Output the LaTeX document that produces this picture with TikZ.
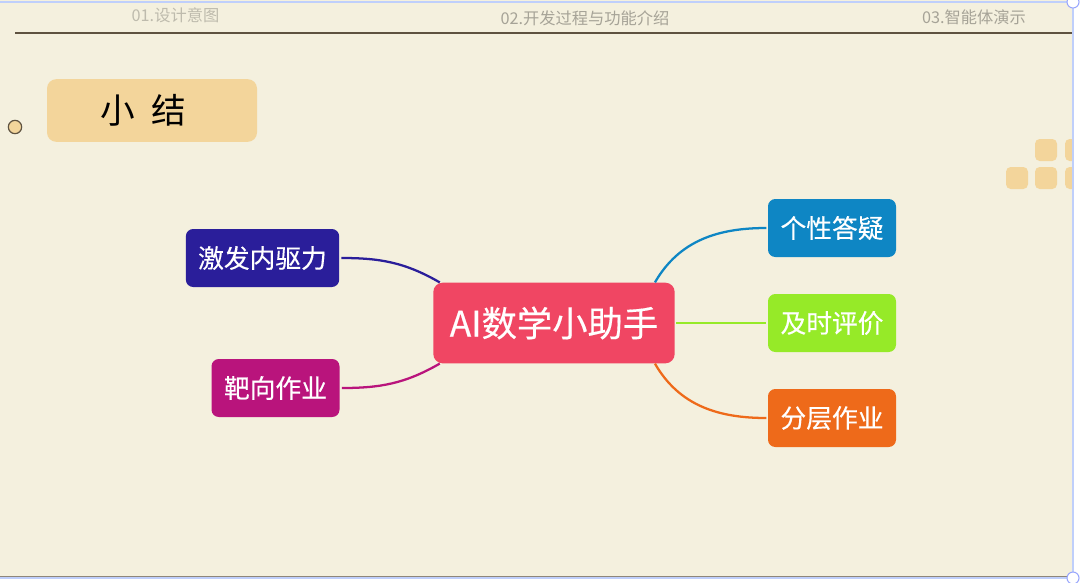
\documentclass[tikz,border=0pt]{standalone}
\usepackage{fontspec}
\setmainfont{Noto Sans CJK SC}
\newfontfamily\heavycjk[FakeBold=0.35]{Noto Sans CJK SC}
\usetikzlibrary{positioning}
\definecolor{paper}{HTML}{F4F0DE}
\definecolor{sand}{HTML}{F3D59B}
\definecolor{frameblue}{HTML}{BFCFFB}
\definecolor{rulebrown}{HTML}{5E5240}
\definecolor{mainred}{HTML}{F04663}
\definecolor{navy}{HTML}{2A1E9A}
\definecolor{plum}{HTML}{B9147C}
\definecolor{sky}{HTML}{0E86C4}
\definecolor{lime}{HTML}{96EA28}
\definecolor{tangerine}{HTML}{EE6A1A}
\tikzset{
  topic/.style={fill=#1,text=white,rounded corners=5.5pt,minimum height=43.5pt,
    inner sep=0pt,font=\heavycjk\fontsize{19.3}{19.3}\selectfont},
  link/.style={draw=#1,line width=1.7pt},
  tab/.style={text=#1,inner sep=0pt,font=\fontsize{12.2}{12.2}\selectfont},
  tile/.style={fill=sand,rounded corners=3.5pt,minimum size=16.5pt,inner sep=0pt},
  handle/.style={draw=frameblue!80!blue,fill=white,line width=0.8pt,circle,
    minimum size=9pt,inner sep=0pt}
}
\begin{document}
\begin{tikzpicture}[x=0.75pt,y=-0.75pt]
\useasboundingbox (0,0) rectangle (1080,582);
\fill[white] (0,0) rectangle (1080,582);
\fill[paper] (0,0) rectangle (1073,577);
\begin{scope}
\clip (0,0) rectangle (1073,577);
\foreach \x/\y in {1046/150,1076/150,1017/178,1046/178,1076/178}
\node[tile] (tile\x\y) at (\x,\y) {};
\end{scope}
\draw[rulebrown,line width=1.2pt] (15,33) coordinate (ruleL) -- (1072,33) coordinate (ruleR);
\draw[rulebrown!70,line width=0.7pt] (0,576) coordinate (baseL) -- (1072,576) coordinate (baseR);
\draw[frameblue,line width=1.6pt] (0,2) coordinate (frameA) -- (1073,2) coordinate (frameB)
  -- (1073,578) coordinate (frameC) -- (0,578) coordinate (frameD);
\node[handle] (handleT) at (frameB) {};
\node[handle] (handleB) at (frameC) {};
\node[tab=paper!78!black] (tabA) at (175.5,15) {01.设计意图};
\node[tab=paper!68!black] (tabB) at (585,18) {02.开发过程与功能介绍};
\node[tab=paper!68!black] (tabC) at (974,17) {03.智能体演示};
\node[fill=sand,rounded corners=7pt,minimum width=157.5pt,minimum height=47pt,inner sep=0pt,
  font=\fontsize{26}{26}\selectfont] (summary) at (152,110.5) {小\hspace{12pt}结\hspace*{12.8pt}};
\node[circle,fill=sand,draw=rulebrown,line width=0.9pt,minimum size=10pt,inner sep=0pt] (dot) at (15,127) {};
% mind map
\node[topic=mainred,rounded corners=7pt,minimum width=181pt,minimum height=60.5pt,
  font=\heavycjk\fontsize{26.5}{26.5}\selectfont] (main) at (554,323) {AI数学小助手};
\node[topic=navy,minimum width=115pt] (drive) at (262.5,258) {激发内驱力};
\node[topic=plum,minimum width=96pt] (target) at (275.5,388) {靶向作业};
\node[topic=sky,minimum width=96pt] (answer) at (832,228) {个性答疑};
\node[topic=lime,minimum width=96pt] (review) at (832,323) {及时评价};
\node[topic=tangerine,minimum width=96pt] (layer) at (832,418) {分层作业};
\draw[link=navy,shorten <=1.5pt] (drive.east) to[out=0,in=150] ([xshift=5pt]main.north west);
\draw[link=plum,shorten <=1.5pt] (target.east) to[out=0,in=-150] ([xshift=5pt]main.south west);
\draw[link=sky,shorten >=1pt] ([xshift=-15pt]main.north east) to[out=60,in=180] (answer.west);
\draw[link=lime,line width=2.2pt,shorten <=1pt,shorten >=1pt] (main.east) -- (review.west);
\draw[link=tangerine,shorten >=1pt] ([xshift=-15pt]main.south east) to[out=-60,in=180] (layer.west);
\end{tikzpicture}
\end{document}
